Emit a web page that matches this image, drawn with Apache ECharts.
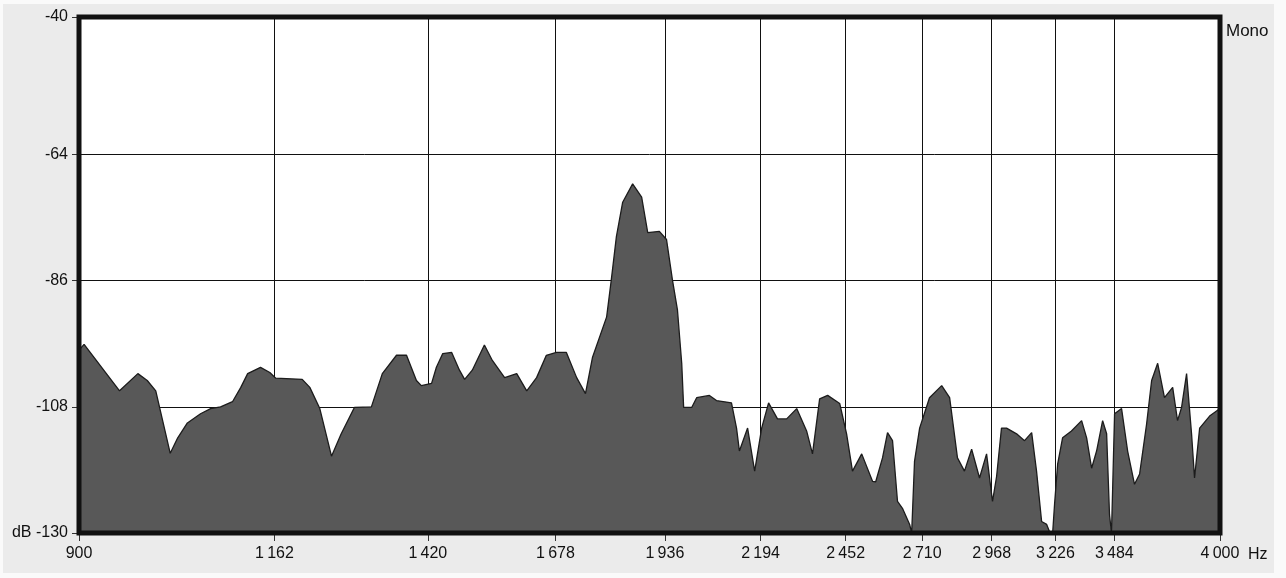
<!DOCTYPE html>
<html>
<head>
<meta charset="utf-8">
<script src="https://cdn.jsdelivr.net/npm/echarts@6/dist/echarts.min.js"></script>
<style>
  html, body { margin: 0; padding: 0; background: #fafafa; }
  #chart { width: 1286px; height: 578px; }
</style>
</head>
<body>
<div id="chart"></div>
<script>
// Spectrum: frequency (Hz) and level (dB)
const freqHz = [
  900, 906, 949, 972, 984, 995, 1014, 1024, 1037, 1055,
  1069, 1083, 1100, 1112, 1122, 1141, 1155, 1164, 1205, 1217,
  1233, 1252, 1268, 1290, 1319, 1338, 1363, 1381, 1399, 1408,
  1427, 1436, 1448, 1465, 1480, 1490, 1505, 1529, 1545, 1570,
  1595, 1616, 1637, 1658, 1680, 1702, 1725, 1745, 1761, 1794,
  1805, 1817, 1832, 1856, 1878, 1893, 1922, 1940, 1955, 1968,
  1979, 1984, 2005, 2018, 2052, 2071, 2112, 2126, 2134, 2157,
  2177, 2197, 2217, 2243, 2270, 2300, 2330, 2348, 2370, 2395,
  2433, 2455, 2474, 2504, 2540, 2550, 2573, 2590, 2607, 2624,
  2641, 2666, 2673, 2683, 2701, 2736, 2780, 2809, 2838, 2864,
  2891, 2921, 2948, 2971, 2987, 3006, 3026, 3066, 3098, 3127,
  3147, 3168, 3189, 3201, 3214, 3222, 3235, 3256, 3294, 3338,
  3360, 3382, 3404, 3431, 3449, 3462, 3471, 3485, 3517, 3545,
  3577, 3601, 3634, 3658, 3687, 3720, 3760, 3784, 3804, 3829,
  3854, 3869, 3895, 3946, 4000
];
const levelDb = [
  -98.1, -97.1, -105.2, -102.2, -103.4, -105.2, -116.1, -113.4, -110.8, -109.2,
  -108.3, -108.0, -107.1, -104.6, -102.2, -101.1, -102.0, -103.0, -103.2, -104.6,
  -108.3, -116.6, -112.7, -108.1, -108.0, -102.2, -99.0, -99.0, -103.4, -104.3,
  -103.9, -101.1, -98.7, -98.5, -101.6, -103.2, -101.6, -97.2, -99.9, -102.9,
  -102.2, -105.2, -102.9, -99.0, -98.5, -98.5, -102.9, -105.7, -99.4, -92.3,
  -85.8, -78.3, -72.3, -69.1, -71.4, -77.6, -77.4, -78.8, -85.8, -91.1,
  -100.4, -108.1, -108.1, -106.4, -106.0, -106.9, -107.3, -111.7, -115.7, -111.7,
  -119.2, -111.7, -107.3, -110.1, -110.1, -108.3, -112.2, -116.2, -106.6, -106.0,
  -107.4, -112.7, -119.2, -116.2, -121.0, -121.1, -116.9, -112.5, -113.9, -124.5,
  -125.7, -128.5, -130.0, -117.5, -111.7, -106.4, -104.3, -106.4, -116.9, -119.2,
  -115.4, -120.4, -116.2, -124.5, -120.1, -111.7, -111.7, -112.7, -113.9, -112.5,
  -119.2, -128.0, -128.5, -129.8, -130.0, -125.0, -118.0, -113.4, -112.2, -110.4,
  -113.4, -118.7, -115.7, -110.4, -112.7, -126.8, -130.0, -109.2, -108.3, -115.7,
  -121.5, -119.7, -111.0, -103.4, -100.4, -106.4, -104.6, -110.4, -108.1, -102.2,
  -112.7, -120.4, -111.7, -109.6, -108.3
];

// Axis ticks and their printed labels
const xTickHz = [900, 1162, 1420, 1678, 1936, 2194, 2452, 2710, 2968, 3226, 3484, 4000];
const xTickLabels = ['900', '1\u2009162', '1\u2009420', '1\u2009678', '1\u2009936', '2\u2009194',
  '2\u2009452', '2\u2009710', '2\u2009968', '3\u2009226', '3\u2009484', '4\u2009000'];
const yTickDb = [-130, -108, -86, -64, -40];
const yTickLabels = ['dB -130', '-108', '-86', '-64', '-40'];

// Layout: panel, plot frame
const CW = 1286, CH = 578;
const P_LEFT = 3, P_TOP = 4, P_RIGHT = 1274, P_BOTTOM = 573;
const G_LEFT = 79, G_TOP = 17, G_RIGHT = 66, G_BOTTOM = 45;
const G_W = CW - G_LEFT - G_RIGHT, G_H = CH - G_TOP - G_BOTTOM;

const ln = Math.log;
const xTickPos = xTickHz.map(ln);

function nearestLabel(v, positions, labels) {
  let best = 0, d = Infinity;
  positions.forEach((p, i) => {
    const dd = Math.abs(p - v);
    if (dd < d) { d = dd; best = i; }
  });
  return labels[best];
}

const FONT = '"Liberation Sans", Arial, sans-serif';
const labelFont = { color: '#111', fontFamily: FONT, fontSize: 16 };

const chart = echarts.init(document.getElementById('chart'), null, { renderer: 'canvas' });
chart.setOption({
  backgroundColor: '#fafafa',
  animation: false,
  grid: {
    left: G_LEFT, top: G_TOP, right: G_RIGHT, bottom: G_BOTTOM,
    show: true, backgroundColor: '#ffffff', borderWidth: 0
  },
  xAxis: {
    type: 'value',
    min: ln(900), max: ln(4000),
    axisLine: { show: false },
    axisTick: { show: true, length: 8, customValues: xTickPos, lineStyle: { color: '#333', width: 1 } },
    axisLabel: Object.assign({
      customValues: xTickPos,
      margin: 13,
      formatter: v => nearestLabel(v, xTickPos, xTickLabels)
    }, labelFont),
    splitLine: { show: true, lineStyle: { color: '#111', width: 1 } }
  },
  yAxis: {
    type: 'value',
    min: -130, max: -40,
    axisLine: { show: false },
    axisTick: { show: true, length: 7, customValues: yTickDb, lineStyle: { color: '#333', width: 1 } },
    axisLabel: Object.assign({
      customValues: yTickDb,
      margin: 11,
      formatter: v => nearestLabel(v, yTickDb, yTickLabels)
    }, labelFont),
    splitLine: { show: true, lineStyle: { color: '#111', width: 1 } }
  },
  series: [{
    type: 'line',
    data: freqHz.map((f, i) => [ln(f), levelDb[i]]),
    symbol: 'none',
    silent: true,
    lineStyle: { color: '#1c1c1c', width: 1.3 },
    areaStyle: { color: '#585858', opacity: 1, origin: 'start' }
  }],
  graphic: [
    {
      // grey panel behind the plot
      type: 'rect', z: -10, silent: true,
      shape: { x: P_LEFT, y: P_TOP, width: P_RIGHT - P_LEFT, height: P_BOTTOM - P_TOP },
      style: { fill: '#ebebeb' }
    },
    {
      type: 'rect', z: 100, silent: true,
      shape: { x: G_LEFT, y: G_TOP, width: G_W, height: G_H },
      style: { fill: null, stroke: '#111', lineWidth: 5 }
    },
    {
      type: 'text', z: 100, silent: true,
      x: G_LEFT + G_W + 28, y: CH - G_BOTTOM + 22,
      style: { text: 'Hz', fill: '#111', font: '16px ' + FONT, verticalAlign: 'middle' }
    },
    {
      type: 'text', z: 100, silent: true,
      x: G_LEFT + G_W + 6, y: G_TOP + 14,
      style: { text: 'Mono', fill: '#111', font: '17px ' + FONT, verticalAlign: 'middle' }
    },
    {
      // right margin strip beyond the panel edge
      type: 'rect', z: 110, silent: true,
      shape: { x: P_RIGHT, y: 0, width: CW - P_RIGHT, height: CH },
      style: { fill: '#fafafa' }
    }
  ]
});
</script>
</body>
</html>
